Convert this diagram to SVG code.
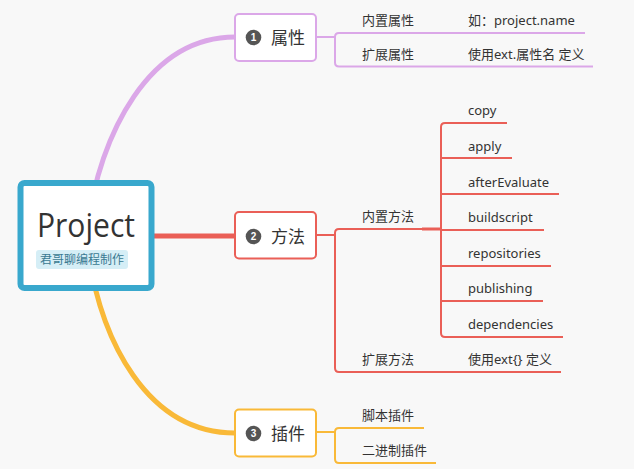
<svg xmlns="http://www.w3.org/2000/svg" width="634" height="469" viewBox="0 0 634 469">
<style>
.lbl{font-family:"Noto Sans","Noto Sans CJK SC",sans-serif;font-size:13px;fill:#333;}
.topic{font-family:"Noto Sans CJK SC","Noto Sans",sans-serif;font-size:17px;fill:#333;}
.num{font-family:"Liberation Sans",sans-serif;font-size:10px;font-weight:bold;fill:#fff;text-anchor:middle;}
.box{fill:#fff;stroke-width:2;}
.p{stroke:#dba7e8;fill:none;}
.r{stroke:#ea5f57;fill:none;}
.y{stroke:#f9b938;fill:none;}
</style>
<rect x="0" y="0" width="634" height="469" fill="#f8f8f8"/>
<g id="connectors">
  <path class="p" stroke-width="5" d="M86 235 C100 130 150 37 235 37"/>
  <path class="r" stroke-width="5" d="M150 236 H235"/>
  <path class="y" stroke-width="5" d="M86 235 C98 345 150 433 235 433"/>
  <g stroke-width="2">
    <path class="p" d="M316 37 H335"/>
    <path class="p" d="M585 33 H339 Q335 33 335 37 V62.5 Q335 66.5 339 66.5 H593"/>
    <path class="r" d="M316 235 H335"/>
    <path class="r" d="M441 229 H339 Q335 229 335 233 V368 Q335 372 339 372 H561"/>
    <path class="r" stroke-width="3" d="M422 229 H441"/>
    <path class="r" d="M507 123 H445 Q441 123 441 127 V333 Q441 337 445 337 H563"/>
    <path class="r" d="M441 158 H512"/>
    <path class="r" d="M441 194 H559"/>
    <path class="r" d="M441 230 H544"/>
    <path class="r" d="M441 266 H551"/>
    <path class="r" d="M441 301 H543"/>
    <path class="y" d="M316 432 H335"/>
    <path class="y" d="M424 428 H339 Q335 428 335 432 V459 Q335 463 339 463 H436"/>
  </g>
</g>
<g id="root">
  <rect x="20.5" y="183" width="131" height="105" rx="4" fill="#fff" stroke="#39a8cd" stroke-width="6"/>
  <text x="86" y="237" text-anchor="middle" font-family="'Open Sans','Noto Sans',sans-serif" font-size="32" fill="#333" textLength="98" lengthAdjust="spacingAndGlyphs">Project</text>
  <rect x="36" y="250" width="92" height="19" rx="3" fill="#d5eef6"/>
  <text x="82" y="264" text-anchor="middle" font-family="'Noto Sans CJK SC',sans-serif" font-size="12" fill="#3a7a92">君哥聊编程制作</text>
</g>
<g id="node-attr">
  <rect class="box" x="235" y="14" width="81" height="47" rx="4" stroke="#dba7e8"/>
  <circle cx="253.5" cy="37.5" r="7.8" fill="#555"/>
  <text class="num" x="253.5" y="41">1</text>
  <text class="topic" x="271" y="44">属性</text>
</g>
<g id="node-method">
  <rect class="box" x="235" y="212" width="81" height="46.5" rx="4" stroke="#ea5f57"/>
  <circle cx="253.5" cy="236.5" r="7.8" fill="#555"/>
  <text class="num" x="253.5" y="240">2</text>
  <text class="topic" x="271" y="243">方法</text>
</g>
<g id="node-plugin">
  <rect class="box" x="235" y="409.5" width="81" height="47" rx="4" stroke="#f9b938"/>
  <circle cx="253.5" cy="433.5" r="7.8" fill="#555"/>
  <text class="num" x="253.5" y="437">3</text>
  <text class="topic" x="271" y="440">插件</text>
</g>
<g id="labels">
  <g id="n-builtin-attr"><text class="lbl" x="362" y="25">内置属性</text></g>
  <g id="n-attr-example"><text class="lbl" x="468" y="25">如：project.name</text></g>
  <g id="n-ext-attr"><text class="lbl" x="362" y="59">扩展属性</text></g>
  <g id="n-ext-attr-def"><text class="lbl" x="468" y="59">使用ext.属性名 定义</text></g>
  <g id="n-builtin-method"><text class="lbl" x="362" y="221">内置方法</text></g>
  <g id="n-copy"><text class="lbl" x="468" y="115">copy</text></g>
  <g id="n-apply"><text class="lbl" x="468" y="151">apply</text></g>
  <g id="n-afterEvaluate"><text class="lbl" x="468" y="187">afterEvaluate</text></g>
  <g id="n-buildscript"><text class="lbl" x="468" y="222">buildscript</text></g>
  <g id="n-repositories"><text class="lbl" x="468" y="258">repositories</text></g>
  <g id="n-publishing"><text class="lbl" x="468" y="293">publishing</text></g>
  <g id="n-dependencies"><text class="lbl" x="468" y="329">dependencies</text></g>
  <g id="n-ext-method"><text class="lbl" x="362" y="364">扩展方法</text></g>
  <g id="n-ext-method-def"><text class="lbl" x="468" y="364">使用ext{} 定义</text></g>
  <g id="n-script-plugin"><text class="lbl" x="362" y="420">脚本插件</text></g>
  <g id="n-binary-plugin"><text class="lbl" x="362" y="455">二进制插件</text></g>
</g>
</svg>
